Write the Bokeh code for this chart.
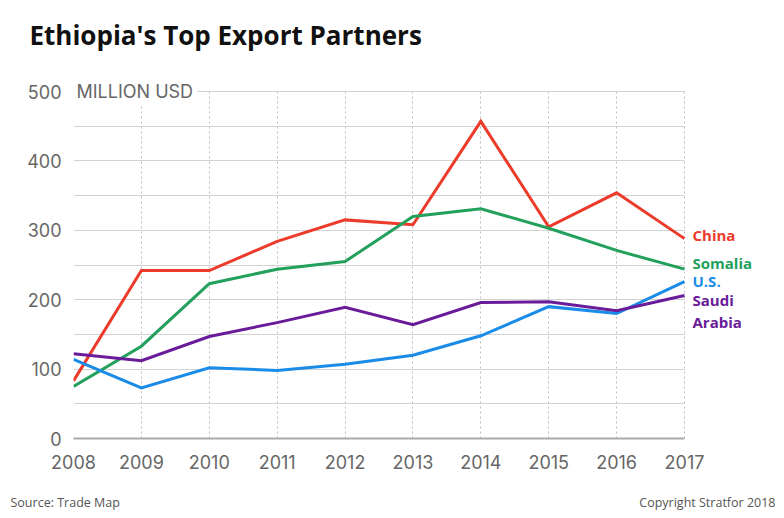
from bokeh.plotting import figure
from bokeh.models import FixedTicker, Label, Range1d, Grid
from bokeh.layouts import column
from bokeh.embed import file_html
from bokeh.resources import INLINE

years = [2008, 2009, 2010, 2011, 2012, 2013, 2014, 2015, 2016, 2017]
china = [83, 242, 242, 284, 315, 308, 457, 305, 354, 288]
somalia = [75, 133, 223, 244, 255, 320, 331, 303, 271, 244]
us = [114, 73, 102, 98, 107, 120, 148, 190, 180, 226]
saudi = [122, 112, 147, 167, 189, 164, 196, 197, 184, 206]
y_ticks = [0, 100, 200, 300, 400, 500]
grid_ticks = [0, 50, 100, 150, 200, 250, 300, 350, 400, 450]

series = [
    ("China", china, "#ec3b2b"),
    ("Somalia", somalia, "#22a05c"),
    ("U.S.", us, "#1a8ce8"),
    ("Saudi Arabia", saudi, "#6a1b9a"),
]

TICK_FONT = "Inter"
LABEL_FONT = "Open Sans"
W = 784
PX = 347 / 500.0          # pixels per million USD
XPX = 611 / 9.0           # pixels per year

# ---------- header (title) ----------
H_HEAD = 70
head = figure(width=W, height=H_HEAD, output_backend="svg", toolbar_location=None,
              title_location=None,
              x_range=Range1d(0, W), y_range=Range1d(H_HEAD, 0),
              x_axis_type=None, y_axis_type=None, min_border=0, frame_align=False)
head.outline_line_color = None
head.grid.visible = False
head.add_layout(Label(x=29, y=34, text="Ethiopia's Top Export Partners", text_font=LABEL_FONT,
                      text_font_style="bold", text_font_size="26px", text_color="#111111",
                      text_baseline="middle"))

# ---------- main chart ----------
H_MAIN = 410
frame_h = 358
p = figure(width=W, height=H_MAIN, output_backend="svg", toolbar_location=None,
           title_location=None,
           min_border_left=73, min_border_right=0, min_border_top=10, min_border_bottom=42,
           x_range=Range1d(2008, 2008 + (W - 73) / XPX), y_range=Range1d(0, frame_h / PX),
           frame_align=False)
p.outline_line_color = None

p.xaxis.ticker = FixedTicker(ticks=years)
p.xaxis.bounds = (2008, 2017)
p.xaxis.axis_line_color = "#aaaaaa"
p.xaxis.axis_line_width = 2
p.xaxis.major_tick_line_color = None
p.xaxis.minor_tick_line_color = None
p.xaxis.major_label_text_font = TICK_FONT
p.xaxis.major_label_text_font_size = "18px"
p.xaxis.major_label_text_color = "#666666"
p.xaxis.major_label_standoff = 10

p.yaxis.ticker = FixedTicker(ticks=y_ticks)
p.yaxis.axis_line_color = None
p.yaxis.major_tick_line_color = None
p.yaxis.minor_tick_line_color = None
p.yaxis.major_label_text_font = TICK_FONT
p.yaxis.major_label_text_font_size = "18px"
p.yaxis.major_label_text_color = "#666666"
p.yaxis.major_label_standoff = 6

p.ygrid.ticker = FixedTicker(ticks=grid_ticks)
p.ygrid.grid_line_color = "#d2d2d2"
p.ygrid.grid_line_width = 1
p.ygrid.cross_bounds = (2008, 2017)
p.xgrid.ticker = FixedTicker(ticks=years)
p.xgrid.grid_line_color = "#bdbdbd"
p.xgrid.grid_line_dash = "2 3"
p.xgrid.grid_line_width = 1
p.xgrid.cross_bounds = (0, 500)

top_grid = Grid(dimension=1, ticker=FixedTicker(ticks=[500]), grid_line_color="#d2d2d2",
                grid_line_width=1, cross_bounds=(2008 + (197 - 73) / XPX, 2017))
p.add_layout(top_grid)

for name, vals, color in series:
    p.line(years, vals, line_color=color, line_width=3, line_join="miter")

def yd(py):
    return (438 - py) / PX

p.add_layout(Label(x=2008, y=500, x_offset=0, text="MILLION USD", text_font=TICK_FONT,
                   text_font_size="18px", text_color="#666666", text_baseline="middle",
                   background_fill_color="white", padding=3))

end_labels = [
    ("China", "#ec3b2b", 234),
    ("Somalia", "#22a05c", 262),
    ("U.S.", "#1a8ce8", 280),
    ("Saudi", "#6a1b9a", 299.5),
    ("Arabia", "#6a1b9a", 321),
]
for txt, col, mid in end_labels:
    p.add_layout(Label(x=2017, y=yd(mid), x_offset=8, text=txt, text_font=LABEL_FONT,
                       text_font_style="bold", text_font_size="15px", text_color=col,
                       text_baseline="middle"))

# ---------- footer ----------
H_FOOT = 518 - H_HEAD - H_MAIN
foot = figure(width=W, height=H_FOOT, output_backend="svg", toolbar_location=None,
              title_location=None,
              x_range=Range1d(0, W), y_range=Range1d(H_FOOT, 0),
              x_axis_type=None, y_axis_type=None, min_border=0, frame_align=False)
foot.outline_line_color = None
foot.grid.visible = False
foot.add_layout(Label(x=10, y=22, text="Source: Trade Map", text_font=LABEL_FONT,
                      text_font_size="12.5px", text_color="#555555", text_baseline="middle"))
foot.add_layout(Label(x=775, y=22, text="Copyright Stratfor 2018", text_font=LABEL_FONT,
                      text_font_size="12.5px", text_color="#555555", text_baseline="middle",
                      text_align="right"))

layout = column(head, p, foot, spacing=0)
open("out.html", "w").write(file_html(layout, INLINE))
